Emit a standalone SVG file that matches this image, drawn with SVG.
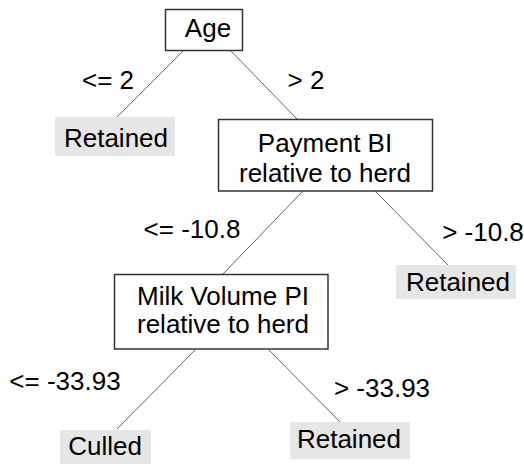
<svg xmlns="http://www.w3.org/2000/svg" width="524" height="464" viewBox="0 0 524 464">
<style>
text{font-family:"Liberation Sans",Arial,sans-serif;font-size:26px;fill:#000;text-anchor:middle}
.box{fill:#fff;stroke:#333;stroke-width:1.5}
.leaf{fill:#e6e6e6;stroke:none}
.edge{stroke:#666;stroke-width:1;fill:none}
</style>
<rect width="524" height="464" fill="#fff"/>
<g id="connectors">
<line class="edge" x1="183" y1="51" x2="117" y2="117"/>
<line class="edge" x1="231" y1="51" x2="297" y2="119"/>
<line class="edge" x1="303" y1="191" x2="223" y2="274"/>
<line class="edge" x1="375" y1="191" x2="448" y2="265"/>
<line class="edge" x1="195" y1="350" x2="117" y2="429"/>
<line class="edge" x1="269" y1="350" x2="340" y2="422"/>
<text x="108" y="89">&lt;= 2</text>
<text x="306" y="89">&gt; 2</text>
<text x="192" y="238">&lt;= -10.8</text>
<text x="483" y="241">&gt; -10.8</text>
<text x="65" y="390">&lt;= -33.93</text>
<text x="382" y="397">&gt; -33.93</text>
</g>
<g id="age">
<rect class="box" x="165.5" y="9.5" width="77" height="41"/>
<text x="208" y="37">Age</text>
</g>
<g id="retained1">
<rect class="leaf" x="55" y="117" width="120" height="39"/>
<text x="116" y="147">Retained</text>
</g>
<g id="payment">
<rect class="box" x="218.5" y="119.5" width="214" height="71.5"/>
<text x="325" y="151.5">Payment BI</text>
<text x="325" y="181.5">relative to herd</text>
</g>
<g id="retained2">
<rect class="leaf" x="396" y="265" width="120" height="34"/>
<text x="458" y="290.5">Retained</text>
</g>
<g id="milk">
<rect class="box" x="114.5" y="274.5" width="213.5" height="74.5"/>
<text x="223" y="305">Milk Volume PI</text>
<text x="223" y="333">relative to herd</text>
</g>
<g id="culled">
<rect class="leaf" x="60" y="430" width="91" height="34"/>
<text x="105" y="455">Culled</text>
</g>
<g id="retained3">
<rect class="leaf" x="290" y="422" width="120" height="37"/>
<text x="349" y="448">Retained</text>
</g>
</svg>
